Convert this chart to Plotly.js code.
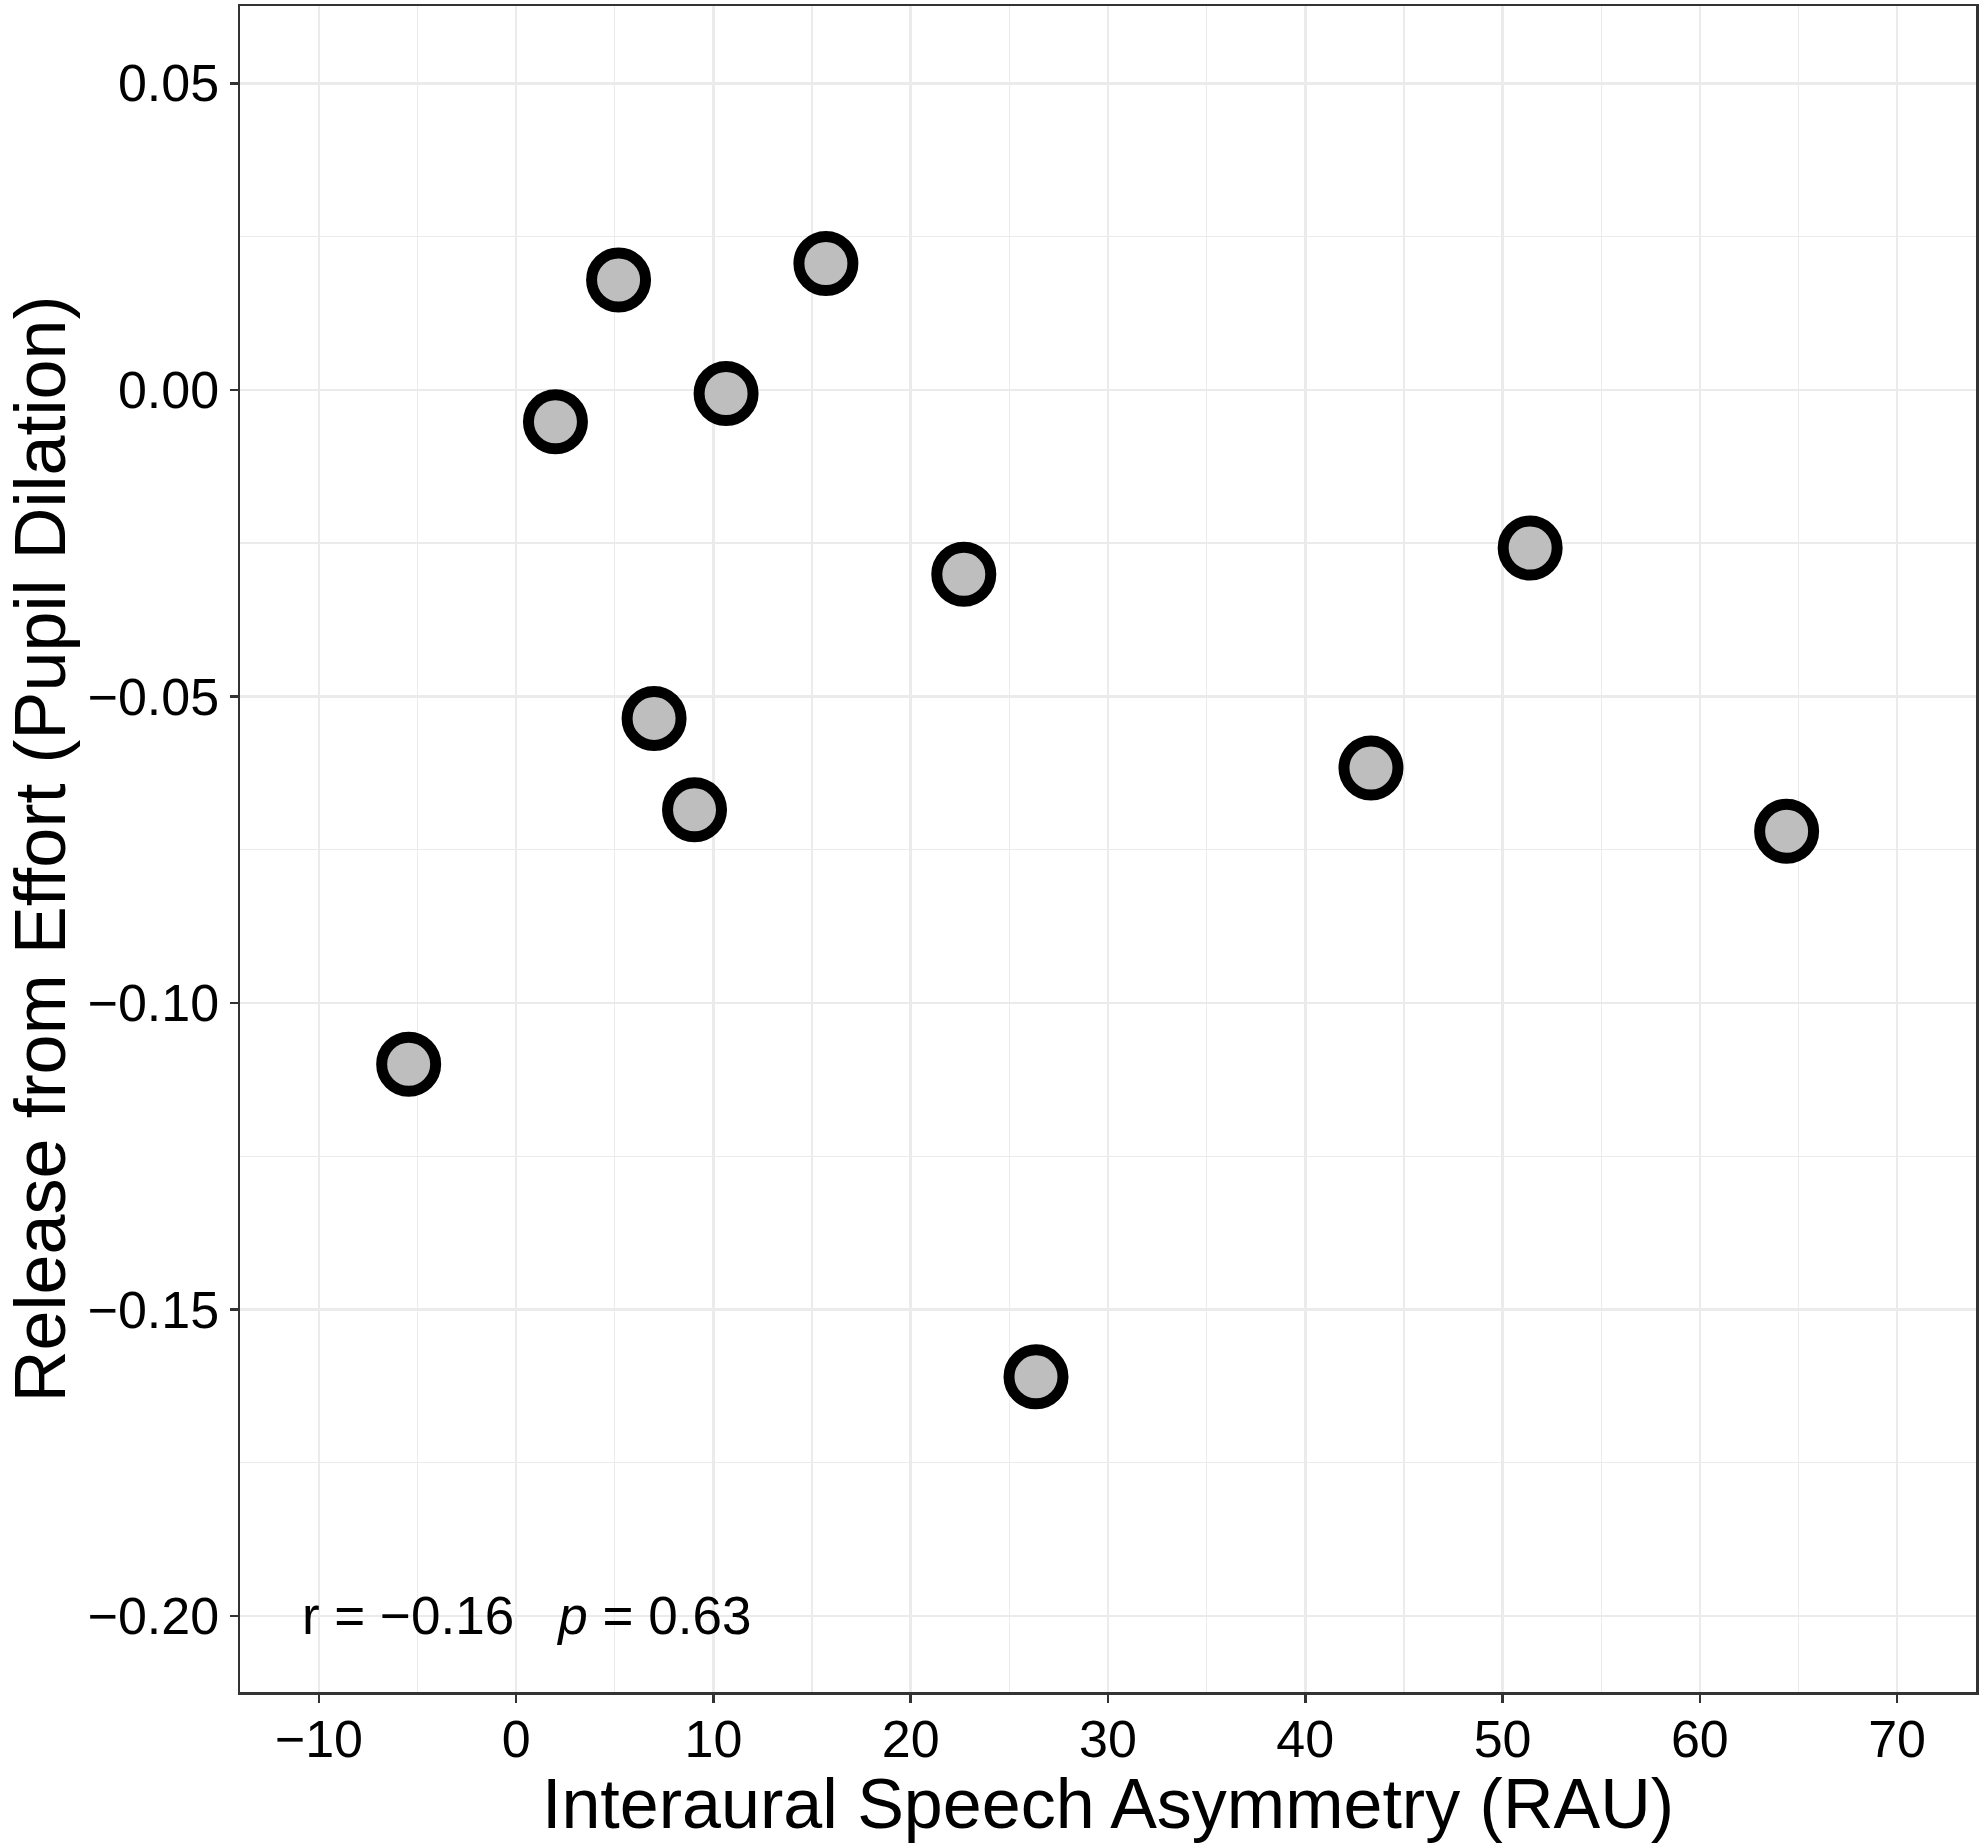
<!DOCTYPE html>
<html>
<head>
<meta charset="utf-8">
<script src="https://cdn.plot.ly/plotly-3.0.1.min.js"></script>
<style>
  html, body { margin: 0; padding: 0; background: #fff; }
  #plot { width: 1983px; height: 1843px; }
</style>
</head>
<body>
<div id="plot"></div>
<script>
// values
var asymmetry = [-5.45, 1.99, 5.19, 6.99, 9.04, 10.64, 15.7, 22.69, 26.35, 43.33, 51.4, 64.4];
var release = [-0.110, -0.0052, 0.0179, -0.0536, -0.0685, -0.0006, 0.0206, -0.0301, -0.161, -0.0617, -0.0258, -0.072];

var statText = 'r\u00a0=\u00a0\u22120.16\u00a0\u00a0\u00a0<i>p</i>\u00a0=\u00a00.63';

var font = 'Liberation Sans, Arial, sans-serif';

var pts = {
  x: asymmetry,
  y: release,
  mode: 'markers',
  type: 'scatter',
  marker: {
    size: 54,
    color: '#bebebe',
    line: {color: '#000000', width: 11}
  },
  hoverinfo: 'x+y'
};

var layout = {
  width: 1983,
  height: 1843,
  margin: {l: 240, r: 7, t: 6, b: 151},
  paper_bgcolor: '#ffffff',
  plot_bgcolor: '#ffffff',
  showlegend: false,
  font: {family: font, color: '#000000'},
  xaxis: {
    range: [-14, 74],
    dtick: 10,
    tick0: 0,
    showgrid: true,
    gridcolor: '#ebebeb',
    gridwidth: 2.5,
    minor: {dtick: 5, showgrid: true, gridcolor: '#ebebeb', gridwidth: 1.3},
    zeroline: false,
    showline: true,
    linecolor: '#333333',
    linewidth: 2.5,
    mirror: true,
    ticks: 'outside',
    ticklen: 8,
    tickwidth: 2.5,
    tickcolor: '#333333',
    ticklabelstandoff: -8,
    tickfont: {size: 52, color: '#000000'},
    title: {text: 'Interaural Speech Asymmetry (RAU)', font: {size: 70}, standoff: 0}
  },
  yaxis: {
    range: [-0.2124, 0.0626],
    dtick: 0.05,
    tick0: 0,
    tickformat: '.2f',
    showgrid: true,
    gridcolor: '#ebebeb',
    gridwidth: 2.5,
    minor: {dtick: 0.025, showgrid: true, gridcolor: '#ebebeb', gridwidth: 1.3},
    zeroline: false,
    showline: true,
    linecolor: '#333333',
    linewidth: 2.5,
    mirror: true,
    ticks: 'outside',
    ticklen: 8,
    tickwidth: 2.5,
    tickcolor: '#333333',
    tickfont: {size: 52, color: '#000000'},
    title: {text: 'Release from Effort (Pupil Dilation)', font: {size: 72}, standoff: 12}
  },
  annotations: [{
    x: -10.96,
    y: -0.20,
    xref: 'x',
    yref: 'y',
    text: statText,
    showarrow: false,
    xanchor: 'left',
    yanchor: 'middle',
    font: {size: 53, color: '#000000'}
  }]
};

Plotly.newPlot('plot', [pts], layout, {displayModeBar: false, staticPlot: true});
</script>
</body>
</html>
